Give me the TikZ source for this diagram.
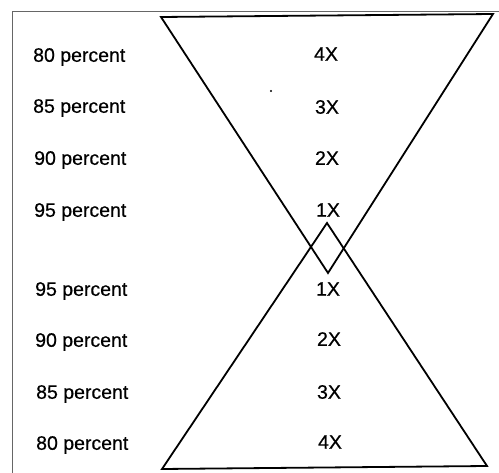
\documentclass[tikz,border=0pt]{standalone}
\usepackage{fontspec}
\setmainfont{Liberation Sans}
\begin{document}
\begin{tikzpicture}[x=1pt,y=-1pt,
  lbl/.style={font=\fontsize{19.5}{21}\selectfont\addfontfeatures{FakeBold=0.6}, inner sep=0pt, anchor=west},
  mult/.style={font=\fontsize{19.5}{21}\selectfont\addfontfeatures{FakeBold=0.6}, inner sep=0pt},
  tri/.style={draw=black, line width=1.8pt, line join=miter},
  frame/.style={draw=black!60, line width=0.9pt}]
\useasboundingbox (0,0) rectangle (499,473);
% frame (top and left edges visible)
\draw[frame] (12,480) -- (12,11) -- (505,11);
% top (inverted) triangle
\coordinate (tA) at (161,17);
\coordinate (tB) at (493,14);
\coordinate (tC) at (328,273);
\draw[tri] (tA) -- (tB) -- (tC) -- cycle;
% bottom triangle
\coordinate (bA) at (162,469);
\coordinate (bB) at (487,466);
\coordinate (bC) at (327,223);
\draw[tri] (bA) -- (bB) -- (bC) -- cycle;
% left labels
\node[lbl] (l1) at (33,57) {80 percent};
\node[lbl] (l2) at (33,108) {85 percent};
\node[lbl] (l3) at (34,160) {90 percent};
\node[lbl] (l4) at (34,212) {95 percent};
\node[lbl] (l5) at (35,291) {95 percent};
\node[lbl] (l6) at (35,342) {90 percent};
\node[lbl] (l7) at (36,394) {85 percent};
\node[lbl] (l8) at (36,445) {80 percent};
% multipliers
\node[mult] (m1) at (326,54) {4X};
\node[mult] (m2) at (327,107) {3X};
\node[mult] (m3) at (327,158) {2X};
\node[mult] (m4) at (328,210) {1X};
\node[mult] (m5) at (328,289) {1X};
\node[mult] (m6) at (329,339) {2X};
\node[mult] (m7) at (329,392) {3X};
\node[mult] (m8) at (330,442) {4X};
% stray dot
\fill (271,91) circle (1.1pt);
\end{tikzpicture}
\end{document}
